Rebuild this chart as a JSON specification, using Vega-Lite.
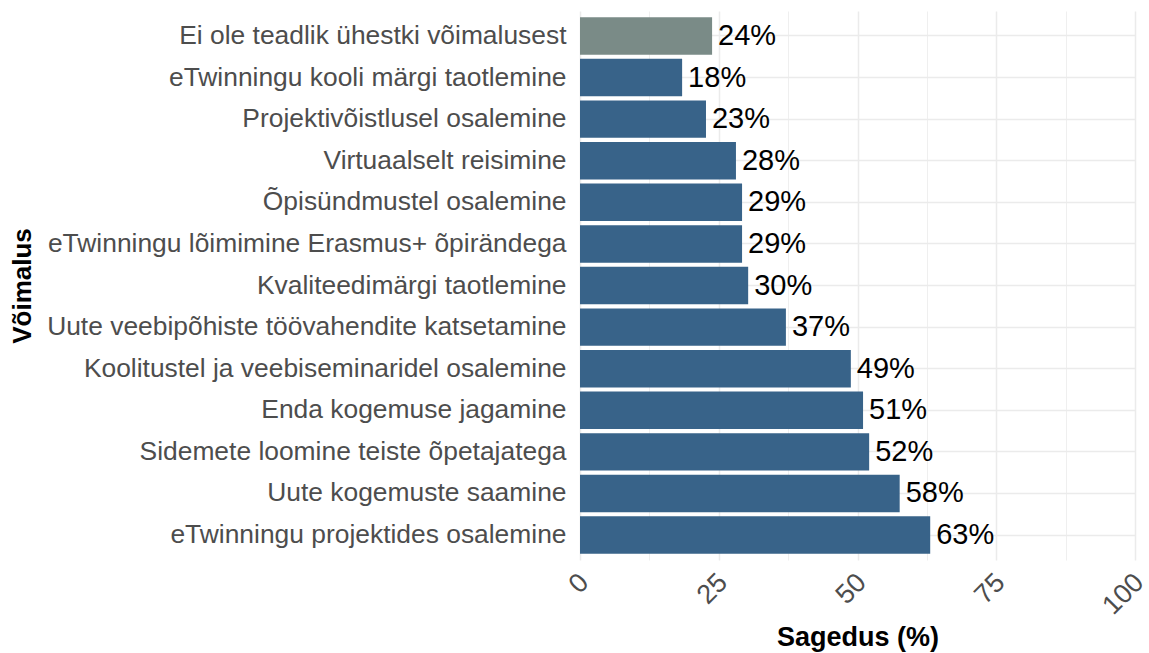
{
  "$schema": "https://vega.github.io/schema/vega-lite/v6.json",
  "autosize": {"type": "none"},
  "padding": {"left": 580, "top": 11, "right": 14, "bottom": 93},
  "width": 555,
  "height": 549,
  "background": "white",
  "config": {
    "font": "Liberation Sans",
    "view": {"stroke": null}
  },
  "data": {
    "values": [
      {"voimalus": "Ei ole teadlik ühestki võimalusest", "sagedus": 23.8, "silt": "24%", "grupp": "ei"},
      {"voimalus": "eTwinningu kooli märgi taotlemine", "sagedus": 18.4, "silt": "18%", "grupp": "jah"},
      {"voimalus": "Projektivõistlusel osalemine", "sagedus": 22.7, "silt": "23%", "grupp": "jah"},
      {"voimalus": "Virtuaalselt reisimine", "sagedus": 28.1, "silt": "28%", "grupp": "jah"},
      {"voimalus": "Õpisündmustel osalemine", "sagedus": 29.2, "silt": "29%", "grupp": "jah"},
      {"voimalus": "eTwinningu lõimimine Erasmus+ õpirändega", "sagedus": 29.2, "silt": "29%", "grupp": "jah"},
      {"voimalus": "Kvaliteedimärgi taotlemine", "sagedus": 30.3, "silt": "30%", "grupp": "jah"},
      {"voimalus": "Uute veebipõhiste töövahendite katsetamine", "sagedus": 37.1, "silt": "37%", "grupp": "jah"},
      {"voimalus": "Koolitustel ja veebiseminaridel osalemine", "sagedus": 48.8, "silt": "49%", "grupp": "jah"},
      {"voimalus": "Enda kogemuse jagamine", "sagedus": 51.0, "silt": "51%", "grupp": "jah"},
      {"voimalus": "Sidemete loomine teiste õpetajatega", "sagedus": 52.1, "silt": "52%", "grupp": "jah"},
      {"voimalus": "Uute kogemuste saamine", "sagedus": 57.6, "silt": "58%", "grupp": "jah"},
      {"voimalus": "eTwinningu projektides osalemine", "sagedus": 63.1, "silt": "63%", "grupp": "jah"}
    ]
  },
  "encoding": {
    "y": {
      "field": "voimalus",
      "type": "nominal",
      "sort": null,
      "scale": {"paddingInner": 0.1, "paddingOuter": 0.15},
      "axis": {
        "title": "Võimalus",
        "titleFontSize": 26,
        "titleFontWeight": "bold",
        "titleColor": "black",
        "titleX": -558,
        "titleY": 274.5,
        "titleAngle": -90,
        "titleAlign": "center",
        "titleBaseline": "middle",
        "labelFontSize": 26.4,
        "labelColor": "#4D4D4D",
        "labelPadding": 14,
        "labelLimit": 800,
        "ticks": false,
        "tickSize": 0,
        "domain": false,
        "grid": true,
        "gridColor": "#EBEBEB",
        "gridWidth": 1.5,
        "bandPosition": 0.5
      }
    },
    "x": {
      "field": "sagedus",
      "type": "quantitative",
      "scale": {"domain": [0, 100], "nice": false, "zero": true},
      "axis": {
        "title": "Sagedus (%)",
        "titleFontSize": 27,
        "titleFontWeight": "bold",
        "titleColor": "black",
        "titlePadding": 5,
        "values": [0, 12.5, 25, 37.5, 50, 62.5, 75, 87.5, 100],
        "labelExpr": "datum.value % 25 === 0 ? datum.label : ''",
        "labelFontSize": 27,
        "labelColor": "#4D4D4D",
        "labelAngle": -45,
        "labelAlign": "right",
        "labelBaseline": "middle",
        "labelPadding": 18,
        "labelOffset": 4,
        "labelFlush": false,
        "labelOverlap": false,
        "ticks": false,
        "tickSize": 0,
        "domain": false,
        "grid": true,
        "gridColor": "#EBEBEB",
        "gridWidth": {"condition": {"test": "datum.value % 25 !== 0", "value": 0.8}, "value": 1.5}
      }
    }
  },
  "layer": [
    {
      "mark": {"type": "bar"},
      "encoding": {
        "color": {
          "field": "grupp",
          "type": "nominal",
          "scale": {"domain": ["ei", "jah"], "range": ["#7A8B87", "#386389"]},
          "legend": null
        }
      }
    },
    {
      "mark": {"type": "text", "align": "left", "baseline": "middle", "dx": 6, "fontSize": 29, "color": "black"},
      "encoding": {
        "text": {"field": "silt"}
      }
    }
  ]
}
